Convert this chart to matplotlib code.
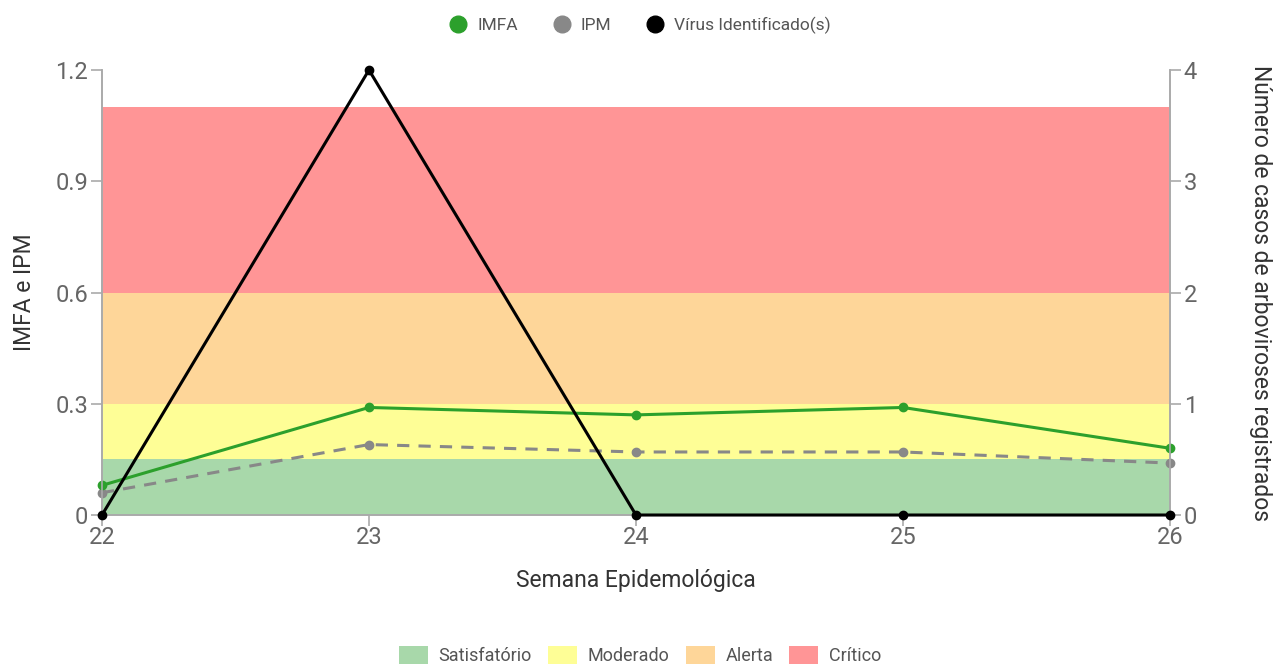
import matplotlib.pyplot as plt
from matplotlib.patches import Patch
from matplotlib.lines import Line2D

plt.rcParams['font.family'] = ['Roboto', 'DejaVu Sans']

# data
semanas = [22, 23, 24, 25, 26]
imfa = [0.08, 0.29, 0.27, 0.29, 0.18]
ipm = [0.06, 0.19, 0.17, 0.17, 0.14]
virus = [0, 4, 0, 0, 0]

faixas = [(0.0, 0.15), (0.15, 0.3), (0.3, 0.6), (0.6, 1.1)]
faixa_nomes = ["Satisfatório", "Moderado", "Alerta", "Crítico"]
faixa_cores = ["#a8d8aa", "#fefe96", "#fed699", "#ff9596"]

verde = "#2ca02c"
cinza = "#888888"
tick_col = "#666666"
spine_col = "#aaaaaa"

fig = plt.figure(figsize=(12.75, 6.66), dpi=100)
ax = fig.add_axes([0.08, 0.2267, 0.8376, 0.6682])
ax2 = ax.twinx()

# faixas de risco
for (lo, hi), cor in zip(faixas, faixa_cores):
    ax.axhspan(lo, hi, color=cor, lw=0, zorder=0)

ax.plot(semanas, imfa, color=verde, lw=2.2, marker="o", ms=6, zorder=4, clip_on=False)
ax.plot(semanas, ipm, color=cinza, lw=2.2, ls=(0, (4, 3)), marker="o", ms=6, zorder=3,
        clip_on=False)
ax2.plot(semanas, virus, color="black", lw=2.2, marker="o", ms=6, zorder=5, clip_on=False)

ax.set_xlim(22, 26)
ax.set_ylim(0, 1.2)
ax2.set_ylim(0, 4)
ax.set_xticks(semanas)
ax.set_yticks([0, 0.3, 0.6, 0.9, 1.2])
ax.set_yticklabels(["0", "0.3", "0.6", "0.9", "1.2"])
ax2.set_yticks([0, 1, 2, 3, 4])

for a in (ax, ax2):
    for s in a.spines.values():
        s.set_color(spine_col)
        s.set_linewidth(1.2)
    a.spines["top"].set_visible(False)
    a.tick_params(colors=spine_col, labelcolor=tick_col, labelsize=17,
                  length=8, width=1.2, pad=2)
ax.tick_params(axis="x", pad=0)

ax.set_ylabel("IMFA e IPM", fontsize=16.5, color="#333333", labelpad=14)
ax2.set_ylabel("Número de casos de arboviroses registrados", fontsize=16.5,
               color="#333333", rotation=270, labelpad=54)
ax.set_xlabel("Semana Epidemológica", fontsize=16.5, color="#333333", labelpad=14)

ax2.patch.set_visible(False)
ax2.set_zorder(2)
ax.set_zorder(1)

# legenda superior
handles_top = [
    Line2D([], [], ls="", marker="o", ms=12, color=verde),
    Line2D([], [], ls="", marker="o", ms=12, color=cinza),
    Line2D([], [], ls="", marker="o", ms=12, color="black"),
]
fig.legend(handles_top, ["IMFA", "IPM", "Vírus Identificado(s)"],
           loc="center", bbox_to_anchor=(0.5, 0.962), ncol=3,
           frameon=False, fontsize=12.5, handletextpad=0.3, handlelength=1.6,
           columnspacing=1.7, labelcolor="#555555")

# legenda inferior
handles_bot = [Patch(facecolor=c, edgecolor="none") for c in faixa_cores]
fig.legend(handles_bot, faixa_nomes, loc="center", bbox_to_anchor=(0.502, 0.016),
           ncol=4, frameon=False, fontsize=13, handlelength=1.6, handleheight=1.2,
           handletextpad=0.6, columnspacing=0.9, labelcolor="#555555")

fig.savefig("out.png", dpi=100)
